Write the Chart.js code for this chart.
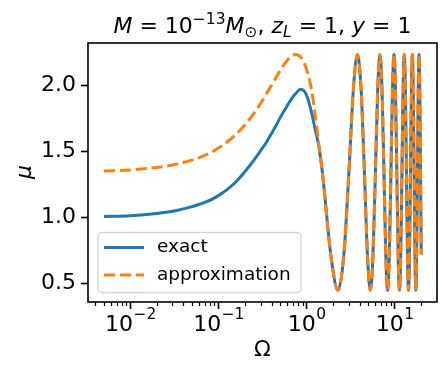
<!DOCTYPE html>
<html>
<head>
<meta charset="utf-8">
<script src="https://cdn.jsdelivr.net/npm/chart.js@4.4.1/dist/chart.umd.min.js"></script>
<style>
  html, body { margin: 0; padding: 0; background: #fff; }
</style>
</head>
<body>
<canvas id="grafico" width="448" height="377"></canvas>
<script>
const omega = [
  0.005, 0.01, 0.02, 0.03, 0.05, 0.07, 0.1, 0.15, 0.2, 0.25, 0.3, 0.35, 0.4, 0.45, 0.5, 0.6, 0.7,
  0.755, 0.85, 0.95, 1.04, 1.133, 1.25, 1.37, 1.51, 1.888, 2.265,
  2.643, 3.020, 3.398, 3.775, 4.153, 4.530, 4.908, 5.285, 5.663, 6.040,
  6.418, 6.795, 7.173, 7.550, 7.928, 8.306, 8.683, 9.061, 9.438, 9.816,
  10.193, 10.571, 10.948, 11.326, 11.703, 12.081, 12.458, 12.836, 13.213, 13.591,
  13.968, 14.346, 14.723, 15.101, 15.478, 15.856, 16.233, 16.611, 16.989, 17.366,
  17.744, 18.121, 18.499, 18.876, 19.254, 19.631, 20.0
];

const muExact = [
  1.006, 1.013, 1.030, 1.046, 1.082, 1.113, 1.165, 1.255, 1.348, 1.430, 1.505, 1.570, 1.637, 1.697, 1.755, 1.845, 1.915,
  1.940, 1.972, 1.955, 1.895, 1.800, 1.670, 1.545, 1.342, 0.709, 0.447,
  0.709, 1.342, 1.974, 2.236, 1.974, 1.342, 0.709, 0.447, 0.709, 1.342,
  1.974, 2.236, 1.974, 1.342, 0.709, 0.447, 0.709, 1.342, 1.974, 2.236,
  1.974, 1.342, 0.709, 0.447, 0.709, 1.342, 1.974, 2.236, 1.974, 1.342,
  0.709, 0.447, 0.709, 1.342, 1.974, 2.236, 1.974, 1.342, 0.709, 0.447,
  0.709, 1.342, 1.974, 2.236, 1.974, 1.342, 0.719
];

const muApprox = [
  1.351, 1.360, 1.379, 1.397, 1.434, 1.471, 1.526, 1.616, 1.703, 1.786, 1.864, 1.937, 2.003, 2.062, 2.113, 2.190, 2.230,
  2.236, 2.219, 2.164, 2.083, 1.974, 1.780, 1.565, 1.342, 0.709, 0.447,
  0.709, 1.342, 1.974, 2.236, 1.974, 1.342, 0.709, 0.447, 0.709, 1.342,
  1.974, 2.236, 1.974, 1.342, 0.709, 0.447, 0.709, 1.342, 1.974, 2.236,
  1.974, 1.342, 0.709, 0.447, 0.709, 1.342, 1.974, 2.236, 1.974, 1.342,
  0.709, 0.447, 0.709, 1.342, 1.974, 2.236, 1.974, 1.342, 0.709, 0.447,
  0.709, 1.342, 1.974, 2.236, 1.974, 1.342, 0.719
];

const xTicks = [0.01, 0.1, 1, 10];
const xTickExp = ["−2", "−1", "0", "1"];
const xMinor = [0.004, 0.005, 0.006, 0.007, 0.008, 0.009,
  0.02, 0.03, 0.04, 0.05, 0.06, 0.07, 0.08, 0.09,
  0.2, 0.3, 0.4, 0.5, 0.6, 0.7, 0.8, 0.9,
  2, 3, 4, 5, 6, 7, 8, 9, 20, 30];
const yTicks = [0.5, 1.0, 1.5, 2.0];
const nomes = ["exact", "approximation"];

const azul = "#1f77b4";
const laranja = "#ff7f0e";
const fonte = "DejaVu Sans";

function pontos(valores) {
  return omega.map((w, i) => ({ x: w, y: valores[i] }));
}

// title, axis labels, frame, minor ticks, x tick labels, legend
const extras = {
  id: "extras",
  afterDatasetsDraw(chart) {
    const ctx = chart.ctx;
    const a = chart.chartArea;
    const sx = chart.scales.x;
    ctx.save();

    // frame
    ctx.strokeStyle = "#000";
    ctx.lineWidth = 1.6;
    ctx.strokeRect(a.left, a.top, a.right - a.left, a.bottom - a.top);

    // minor ticks
    ctx.lineWidth = 1.2;
    xMinor.forEach(v => {
      const px = Math.round(sx.getPixelForValue(v)) + 0.5;
      if (px < a.left || px > a.right) return;
      ctx.beginPath();
      ctx.moveTo(px, a.bottom);
      ctx.lineTo(px, a.bottom + 4);
      ctx.stroke();
    });

    // x tick labels as 10^n
    ctx.fillStyle = "#000";
    ctx.textAlign = "left";
    ctx.textBaseline = "alphabetic";
    xTicks.forEach((v, i) => {
      const px = sx.getPixelForValue(v);
      ctx.font = "22px '" + fonte + "'";
      const wb = ctx.measureText("10").width;
      ctx.font = "15.4px '" + fonte + "'";
      const we = ctx.measureText(xTickExp[i]).width;
      const x0 = px - (wb + we) / 2;
      ctx.font = "22px '" + fonte + "'";
      ctx.fillText("10", x0, 330.5);
      ctx.font = "15.4px '" + fonte + "'";
      ctx.fillText(xTickExp[i], x0 + wb + 0.5, 319);
    });

    // legend
    const lx = 98, ly = 232.5, lw = 203, lh = 60;
    ctx.fillStyle = "rgba(255,255,255,0.8)";
    ctx.strokeStyle = "#d6d6d6";
    ctx.lineWidth = 1.3;
    ctx.beginPath();
    ctx.roundRect(lx, ly, lw, lh, 4);
    ctx.fill();
    ctx.stroke();

    ctx.lineWidth = 3;
    ctx.strokeStyle = azul;
    ctx.beginPath();
    ctx.moveTo(104, 247.5);
    ctx.lineTo(144, 247.5);
    ctx.stroke();
    ctx.strokeStyle = laranja;
    ctx.setLineDash([11.1, 4.8]);
    ctx.beginPath();
    ctx.moveTo(104, 275);
    ctx.lineTo(144, 275);
    ctx.stroke();
    ctx.setLineDash([]);

    ctx.fillStyle = "#000";
    ctx.font = "18.5px '" + fonte + "'";
    ctx.textBaseline = "middle";
    ctx.textAlign = "left";
    ctx.fillText(nomes[0], 157, 247);
    ctx.fillText(nomes[1], 157, 275);

    // axis labels
    ctx.font = "22px '" + fonte + "'";
    ctx.textAlign = "center";
    ctx.fillText("Ω", (a.left + a.right) / 2, 350);
    ctx.save();
    ctx.translate(25, 172);
    ctx.rotate(-Math.PI / 2);
    ctx.font = "italic 22px '" + fonte + "'";
    ctx.fillText("μ", 0, 0);
    ctx.restore();

    // title with super/subscripts
    const big = "22px '" + fonte + "'";
    const bigIt = "italic 22px '" + fonte + "'";
    const small = "15.5px '" + fonte + "'";
    const smallIt = "italic 15.5px '" + fonte + "'";
    const partes = [
      { t: "M", f: bigIt, dy: 0 },
      { t: " = 10", f: big, dy: 0 },
      { t: "−13", f: small, dy: -9 },
      { t: "M", f: bigIt, dy: 0 },
      { t: "⊙", f: small, dy: 4 },
      { t: ", ", f: big, dy: 0 },
      { t: "z", f: bigIt, dy: 0 },
      { t: "L", f: smallIt, dy: 4 },
      { t: " = 1, ", f: big, dy: 0 },
      { t: "y", f: bigIt, dy: 0 },
      { t: " = 1", f: big, dy: 0 }
    ];
    ctx.textAlign = "left";
    ctx.textBaseline = "alphabetic";
    let total = 0;
    partes.forEach(p => { ctx.font = p.f; p.w = ctx.measureText(p.t).width; total += p.w; });
    let x = (a.left + a.right) / 2 - total / 2;
    partes.forEach(p => {
      ctx.font = p.f;
      ctx.fillText(p.t, x, 33 + p.dy);
      x += p.w;
    });

    ctx.restore();
  }
};

const graficoMu = new Chart(document.getElementById("grafico"), {
  type: "line",
  data: {
    datasets: [
      {
        label: nomes[1],
        data: pontos(muApprox),
        borderColor: laranja,
        borderWidth: 3,
        borderDash: [11.1, 4.8],
        pointRadius: 0,
        cubicInterpolationMode: "monotone",
        order: 0
      },
      {
        label: nomes[0],
        data: pontos(muExact),
        borderColor: azul,
        borderWidth: 3,
        pointRadius: 0,
        cubicInterpolationMode: "monotone",
        order: 1
      }
    ]
  },
  options: {
    responsive: false,
    animation: false,
    devicePixelRatio: 1,
    layout: { padding: { top: 43, right: 11, left: 0, bottom: 0 } },
    plugins: {
      legend: { display: false },
      title: { display: false },
      tooltip: { enabled: false }
    },
    scales: {
      x: {
        type: "logarithmic",
        min: 0.0033,
        max: 30.2,
        afterBuildTicks: s => { s.ticks = xTicks.map(v => ({ value: v })); },
        afterFit: s => { s.height = 75; },
        ticks: { display: false },
        grid: { drawOnChartArea: false, tickLength: 7, tickWidth: 1.6, tickColor: "#000" },
        border: { display: false }
      },
      y: {
        min: 0.358,
        max: 2.323,
        afterBuildTicks: s => { s.ticks = yTicks.map(v => ({ value: v })); },
        afterFit: s => { s.width = 88; },
        ticks: {
          padding: 5,
          color: "#000",
          font: { family: fonte, size: 22 },
          callback: v => v.toFixed(1)
        },
        grid: { drawOnChartArea: false, tickLength: 7, tickWidth: 1.6, tickColor: "#000" },
        border: { display: false }
      }
    }
  },
  plugins: [extras]
});
</script>
</body>
</html>
